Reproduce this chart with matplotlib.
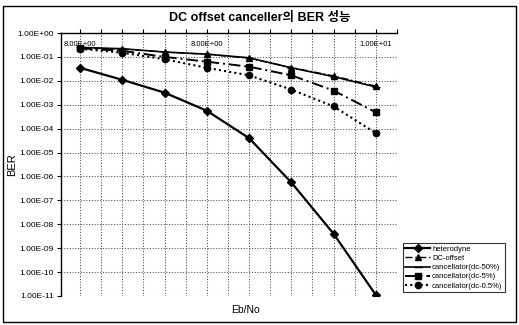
#!/usr/bin/env python
# coding: utf-8
import numpy as np
import matplotlib
matplotlib.use('Agg')
import matplotlib.pyplot as plt
from matplotlib.ticker import FixedLocator, FuncFormatter

#    data (x = point index along Eb/No)
points = [0, 1, 2, 3, 4, 5, 6, 7]
heterodyne = [3.5e-2, 1.1e-2, 3.2e-3, 5.6e-4, 4.0e-5, 5.6e-7, 4.0e-9, 1.1e-11]
dc_offset = [0.24, 0.21, 0.16, 0.13, 0.088, 0.036, 0.016, 6.0e-3]
canc_50 = [0.25, 0.22, 0.16, 0.13, 0.092, 0.035, 0.015, 5.5e-3]
canc_5 = [0.23, 0.18, 0.10, 0.063, 0.039, 0.017, 3.9e-3, 4.8e-4]
canc_05 = [0.22, 0.15, 0.08, 0.035, 0.017, 4.3e-3, 8.5e-4, 6.5e-5]
series_names = ['heterodyne', 'DC-offset', 'cancellator(dc-50%)',
                'cancellator(dc-5%)', 'cancellator(dc-0.5%)']
top_labels = ['8.00E+00', '8.00E+00', '1.00E+01']
top_label_pos = [0, 3, 7]
decades = list(range(0, -12, -1))

title = 'DC offset canceller의 BER 성능'

plt.rcParams['font.family'] = ['Liberation Sans', 'Noto Sans CJK KR', 'DejaVu Sans']

fig = plt.figure(figsize=(5.19, 3.25), dpi=100)
ax = fig.add_axes([61/519, 1 - 296/325, (397-61)/519, (296-33)/325])

styles = [
    dict(ls='-', marker='D', ms=4, lw=1.6),
    dict(ls=(0, (5, 2, 1, 2)), marker='^', ms=4.5, lw=1.0),
    dict(ls='-', marker='_', ms=6, lw=1.2),
    dict(ls=(0, (6, 2, 1, 2)), marker='s', ms=4, lw=1.4),
    dict(ls=(0, (1, 1.5)), marker='o', ms=4.5, lw=1.5),
]
for vals, name, st in zip([heterodyne, dc_offset, canc_50, canc_5, canc_05],
                          series_names, styles):
    ax.plot(points, vals, color='black', label=name, **st)

ax.set_yscale('log')
ax.set_ylim(1e-11, 1e0)
ax.set_xlim(-0.45, 7.5)
ax.yaxis.set_major_locator(FixedLocator([10.0**d for d in decades]))
ax.yaxis.set_minor_locator(FixedLocator([]))
ax.yaxis.set_major_formatter(FuncFormatter(lambda v, p: '{:.2E}'.format(v)))
ax.tick_params(axis='y', labelsize=6, length=3, width=0.8, pad=2)

ax.xaxis.set_major_locator(FixedLocator(np.arange(0, 7.6, 0.5)))
ax.xaxis.tick_top()
ax.tick_params(axis='x', length=3, width=0.8, labeltop=False, labelbottom=False)

ax.grid(True, which='major', color='0.3', ls=':', lw=0.75)
for s in ['right', 'bottom']:
    ax.spines[s].set_visible(False)
for s in ['left', 'top']:
    ax.spines[s].set_linewidth(1.0)

for lbl, px in zip(top_labels, top_label_pos):
    ax.text(px, 0.33, lbl, fontsize=5.5, ha='center', va='center')

ax.set_ylabel('BER', fontsize=8, labelpad=-2)
ax.yaxis.set_label_coords(-0.13, 0.5)
fig.text(245/519, 1 - 310/325, 'Eb/No', fontsize=7.5, ha='center', va='center')
fig.text(260/519, 1 - 18/325, title, fontsize=9, ha='center', va='center',
         weight='semibold', family=['Liberation Sans', 'Noto Sans CJK KR'])

leg = ax.legend(loc='lower left', bbox_to_anchor=(403/519, 1 - 292/325),
                bbox_transform=fig.transFigure, fontsize=5.5, frameon=True,
                fancybox=False, edgecolor='black', handlelength=3.2,
                borderpad=0.3, labelspacing=0.25, handletextpad=0.3,
                borderaxespad=0)
leg.get_frame().set_linewidth(0.8)

#    outer chart border
fig.patches.append(plt.Rectangle((3/519, 3/325), 513/519, 316/325,
                                 transform=fig.transFigure, fill=False,
                                 edgecolor='black', lw=1.0))

fig.savefig('out.png', dpi=100)
